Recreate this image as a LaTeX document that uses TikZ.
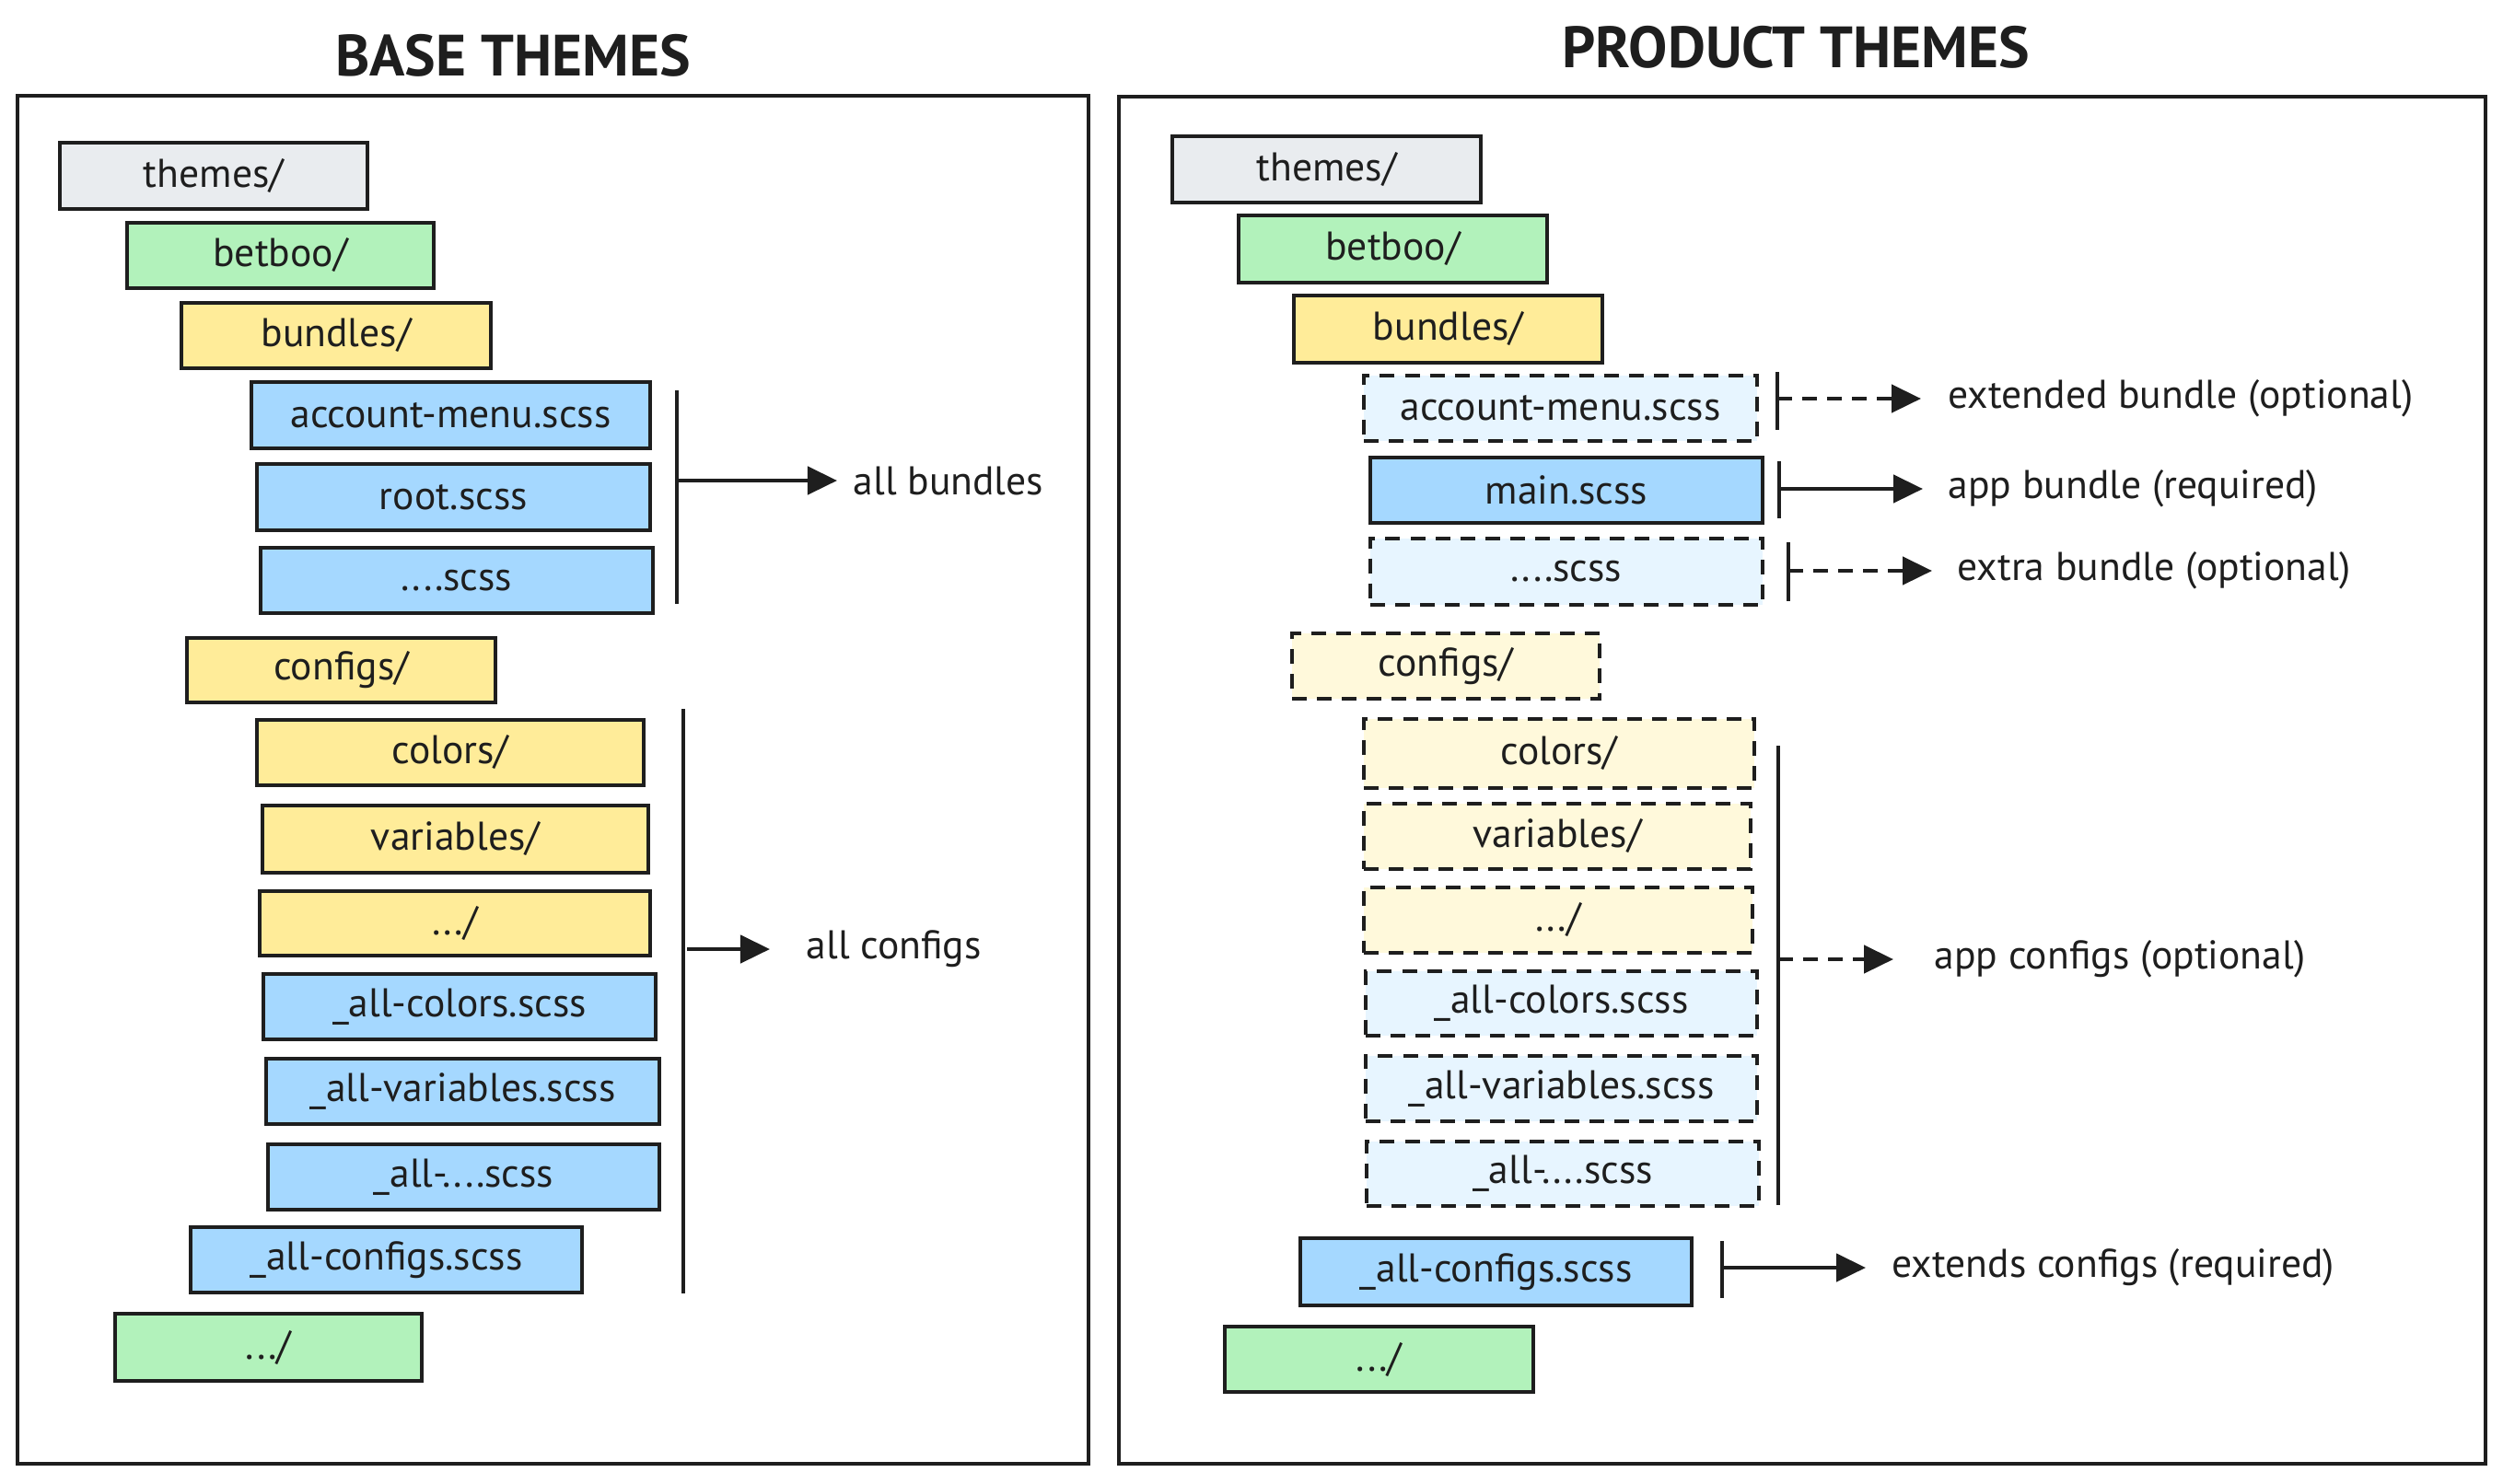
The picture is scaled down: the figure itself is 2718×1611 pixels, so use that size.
\documentclass[tikz,border=0pt]{standalone}
\usepackage{fontspec}
\setmainfont{PT Sans}
\usetikzlibrary{arrows.meta,fit}
\definecolor{ink}{HTML}{1E1E1E}
\definecolor{cgray}{HTML}{E9ECEF}
\definecolor{cgreen}{HTML}{B2F2BB}
\definecolor{cyellow}{HTML}{FFEC99}
\definecolor{cblue}{HTML}{A5D8FF}
\definecolor{clblue}{HTML}{E7F5FF}
\definecolor{clyellow}{HTML}{FFF9DB}
\tikzset{
  box/.style={draw=ink, line width=1.15pt, inner sep=0pt},
  dbox/.style={box, dash pattern=on 0.16cm off 0.11cm},
  boxtext/.style={text=ink, inner sep=0pt, font=\fontsize{12.4}{15}\selectfont},
  panel/.style={draw=ink, line width=0.9pt, inner sep=0pt},
  title/.style={text=ink, font=\fontsize{18}{22}\selectfont\bfseries},
  lbl/.style={text=ink, anchor=west, inner ysep=0pt, font=\fontsize{12.4}{15}\selectfont},
  brk/.style={draw=ink, line width=0.9pt},
  arr/.style={draw=ink, line width=1.3pt, -{Triangle[length=0.32cm,width=0.3cm]}},
  darr/.style={arr, dash pattern=on 0.16cm off 0.11cm},
}
\newcommand{\fbx}[4]{\node[#1, fit={#3}, label={[boxtext]center:#4}] (#2) {};}
\begin{document}
\begin{tikzpicture}[x=0.01cm,y=-0.01cm]
\fill[white] (0,0) rectangle (2718,1611);
\useasboundingbox (0,0) rectangle (2718,1611);

% titles
\node[title] (t1) at (557,60) {BASE THEMES};
\node[title] (t2) at (1950,51) {PRODUCT THEMES};

% panels
\node[panel, fit={(19,104) (1182,1590)}] (p1) {};
\node[panel, fit={(1215,105) (2699,1590)}] (p2) {};

% ---------- left panel ----------
\fbx{box, fill=cgray}{lthemes}{(65,155) (399,227)}{themes/}
\fbx{box, fill=cgreen}{lbetboo}{(138,242) (471,313)}{betboo/}
\fbx{box, fill=cyellow}{lbundles}{(197,329) (533,400)}{bundles/}
\fbx{box, fill=cblue}{lacct}{(273,415) (706,487)}{account-menu.scss}
\fbx{box, fill=cblue}{lroot}{(279,504) (706,576)}{root.scss}
\fbx{box, fill=cblue}{ldscss}{(283,595) (709,666)}{....scss}
\fbx{box, fill=cyellow}{lconfigs}{(203,693) (538,763)}{configs/}
\fbx{box, fill=cyellow}{lcolors}{(279,782) (699,853)}{colors/}
\fbx{box, fill=cyellow}{lvars}{(285,875) (704,948)}{variables/}
\fbx{box, fill=cyellow}{ldots}{(282,968) (706,1038)}{.../}
\fbx{box, fill=cblue}{lallcol}{(286,1058) (712,1129)}{\_all-colors.scss}
\fbx{box, fill=cblue}{lallvar}{(289,1150) (716,1221)}{\_all-variables.scss}
\fbx{box, fill=cblue}{lalldot}{(291,1243) (716,1314)}{\_all-....scss}
\fbx{box, fill=cblue}{lallcfg}{(207,1333) (632,1404)}{\_all-configs.scss}
\fbx{box, fill=cgreen}{lmore}{(125,1427) (458,1500)}{.../}

\coordinate (lb1t) at (735,424);
\coordinate (lb1b) at (735,656);
\coordinate (lb1a) at (735,522);
\draw[brk] (lb1t) -- (lb1b);
\node[lbl, inner xsep=0.17cm] (lab1) at (909,522) {all bundles};
\draw[arr] (lb1a) -- (lab1.west);

\coordinate (lb2t) at (742,770);
\coordinate (lb2b) at (742,1405);
\coordinate (lb2a) at (746,1031);
\draw[brk] (lb2t) -- (lb2b);
\node[lbl, inner xsep=0.39cm] (lab2) at (836,1031) {all configs};
\draw[arr] (lb2a) -- (lab2.west);

% ---------- right panel ----------
\fbx{box, fill=cgray}{rthemes}{(1273,148) (1608,220)}{themes/}
\fbx{box, fill=cgreen}{rbetboo}{(1345,234) (1680,307)}{betboo/}
\fbx{box, fill=cyellow}{rbundles}{(1405,321) (1740,394)}{bundles/}
\fbx{dbox, fill=clblue}{racct}{(1481,408) (1908,479)}{account-menu.scss}
\fbx{box, fill=cblue}{rmain}{(1488,497) (1914,568)}{main.scss}
\fbx{dbox, fill=clblue}{rdscss}{(1488,585) (1914,657)}{....scss}
\fbx{dbox, fill=clyellow}{rconfigs}{(1403,688) (1737,759)}{configs/}
\fbx{dbox, fill=clyellow}{rcolors}{(1481,781) (1905,856)}{colors/}
\fbx{dbox, fill=clyellow}{rvars}{(1481,873) (1901,944)}{variables/}
\fbx{dbox, fill=clyellow}{rdots}{(1481,964) (1903,1035)}{.../}
\fbx{dbox, fill=clblue}{rallcol}{(1483,1055) (1908,1125)}{\_all-colors.scss}
\fbx{dbox, fill=clblue}{rallvar}{(1483,1147) (1908,1218)}{\_all-variables.scss}
\fbx{dbox, fill=clblue}{ralldot}{(1484,1240) (1910,1310)}{\_all-....scss}
\fbx{box, fill=cblue}{rallcfg}{(1412,1345) (1837,1418)}{\_all-configs.scss}
\fbx{box, fill=cgreen}{rmore}{(1330,1441) (1665,1512)}{.../}

\coordinate (rb1t) at (1930,404);
\coordinate (rb1b) at (1930,467);
\coordinate (rb1a) at (1930,433);
\draw[brk] (rb1t) -- (rb1b);
\node[lbl, inner xsep=0.29cm] (rlab1) at (2086,433) {extended bundle (optional)};
\draw[darr] (rb1a) -- (rlab1.west);

\coordinate (rb2t) at (1932,501);
\coordinate (rb2b) at (1932,563);
\coordinate (rb2a) at (1932,531);
\draw[brk] (rb2t) -- (rb2b);
\node[lbl, inner xsep=0.27cm] (rlab2) at (2088,531) {app bundle (required)};
\draw[arr] (rb2a) -- (rlab2.west);

\coordinate (rb3t) at (1942,589);
\coordinate (rb3b) at (1942,653);
\coordinate (rb3a) at (1942,620);
\draw[brk] (rb3t) -- (rb3b);
\node[lbl, inner xsep=0.27cm] (rlab3) at (2098,620) {extra bundle (optional)};
\draw[darr] (rb3a) -- (rlab3.west);

\coordinate (rb4t) at (1931,810);
\coordinate (rb4b) at (1931,1309);
\coordinate (rb4a) at (1931,1042);
\draw[brk] (rb4t) -- (rb4b);
\node[lbl, inner xsep=0.44cm] (rlab4) at (2056,1042) {app configs (optional)};
\draw[darr] (rb4a) -- (rlab4.west);

\coordinate (rb5t) at (1870,1348);
\coordinate (rb5b) at (1870,1410);
\coordinate (rb5a) at (1870,1377);
\draw[brk] (rb5t) -- (rb5b);
\node[lbl, inner xsep=0.28cm] (rlab5) at (2026,1377) {extends configs (required)};
\draw[arr] (rb5a) -- (rlab5.west);
\end{tikzpicture}
\end{document}
